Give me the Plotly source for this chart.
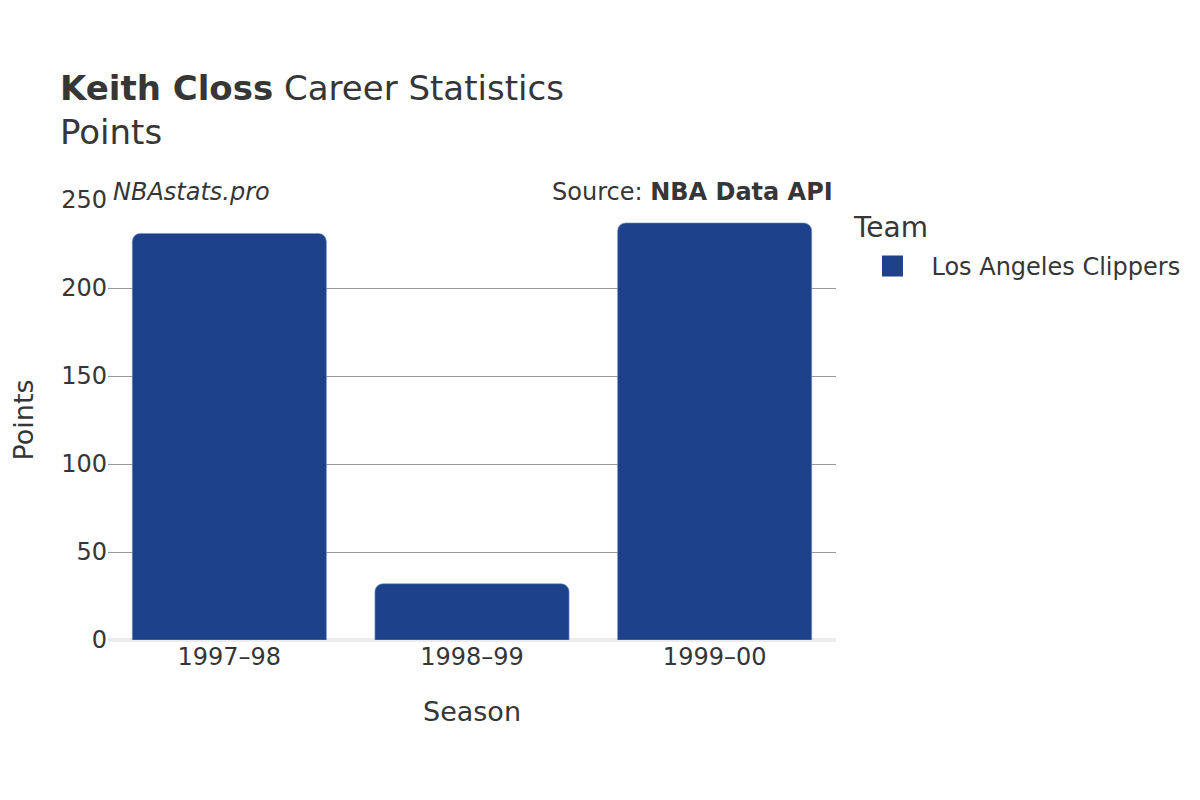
import plotly.graph_objects as go

seasons = ["1997–98", "1998–99", "1999–00"]
points = [231, 32, 237]
team = "Los Angeles Clippers"
team_color = "#1d428a"
y_ticks = [0, 50, 100, 150, 200, 250]

FONT = "DejaVu Sans"
TXT = "#363636"

fig = go.Figure()
fig.add_trace(go.Bar(
    x=seasons, y=points, name=team,
    marker=dict(color=team_color, cornerradius=8,
                line=dict(color="rgba(120,150,200,0.6)", width=1)),
    width=0.8,
    showlegend=False,
    legendgroup=team,
))
# legend entry with a larger swatch
fig.add_trace(go.Scatter(
    x=[None], y=[None], name=team, mode="markers",
    marker=dict(color=team_color, symbol="square", size=16,
                line=dict(color=team_color, width=6)),
    showlegend=True,
    legendgroup=team,
))

fig.update_layout(
    width=1200, height=800,
    paper_bgcolor="white", plot_bgcolor="white",
    font=dict(family=FONT, color=TXT, size=24),
    margin=dict(l=100, r=372, t=192, b=168, autoexpand=False),
    title=dict(
        text="<b>Keith Closs</b> Career Statistics<br>Points",
        x=52 / 1200, xanchor="left", xref="container",
        y=1 - 92 / 800, yanchor="top", yref="container",
        font=dict(size=34, family=FONT, color=TXT),
    ),
    xaxis=dict(
        title=dict(text="Season", font=dict(size=27), standoff=32),
        tickfont=dict(size=24),
        showgrid=False,
        showline=False,
        ticks="",
    ),
    yaxis=dict(
        title=dict(text="Points", font=dict(size=27), standoff=47),
        tickfont=dict(size=24),
        range=[0, 250],
        tickvals=y_ticks,
        showgrid=True, gridcolor="#999999", gridwidth=1,
        zeroline=True, zerolinecolor="#ececec", zerolinewidth=4,
        ticks="",
    ),
    legend=dict(
        font=dict(size=24),
        x=1.024, xanchor="left", y=0.9000, yanchor="top",
        itemsizing="trace",
        itemwidth=68,
    ),
    bargap=0.2,
)

fig.add_annotation(
    text="Team", xref="paper", yref="paper",
    x=1.0206, y=(640 - 227) / 440, xanchor="left", yanchor="middle",
    showarrow=False, font=dict(size=28, family=FONT, color=TXT),
)
fig.add_annotation(
    text="<i>NBAstats.pro</i>", xref="paper", yref="paper",
    x=0.004, y=1.0, xanchor="left", yanchor="bottom", showarrow=False,
    yshift=-8,
    font=dict(size=24, family=FONT, color=TXT),
)
fig.add_annotation(
    text="Source: <b>NBA Data API</b>", xref="paper", yref="paper",
    x=0.999, y=1.0, xanchor="right", yanchor="bottom", showarrow=False,
    yshift=-8,
    font=dict(size=24, family=FONT, color=TXT),
)

fig.write_html("out.html")
